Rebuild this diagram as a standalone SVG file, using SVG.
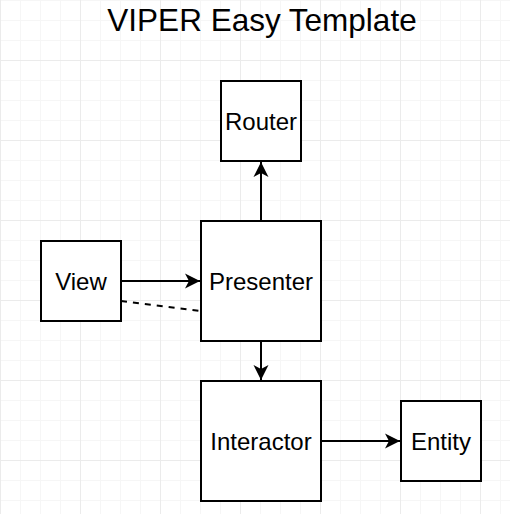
<svg xmlns="http://www.w3.org/2000/svg" width="510" height="514" viewBox="0 0 510 514">
  <defs>
    <pattern id="minor" x="0" y="0" width="20" height="20" patternUnits="userSpaceOnUse">
      <path d="M 0.5 0 V 20 M 0 0.5 H 20" fill="none" stroke="#f6f6f6" stroke-width="1"/>
    </pattern>
    <pattern id="major" x="0" y="60" width="80" height="80" patternUnits="userSpaceOnUse">
      <path d="M 0.5 0 V 80 M 0 0.5 H 80" fill="none" stroke="#ebebeb" stroke-width="1"/>
    </pattern>
    <marker id="arrow" markerUnits="userSpaceOnUse" markerWidth="16" markerHeight="16" viewBox="-15 -8 16 16" refX="0" refY="0" orient="auto">
      <path d="M 0 0 L -15 -7.5 L -11 0 L -15 7.5 Z" fill="#000"/>
    </marker>
    <style>
      .node rect { fill: #fff; stroke: #000; stroke-width: 2; }
      .node text { font-family: "Liberation Sans", Arial, Helvetica, sans-serif; font-size: 24px; text-anchor: middle; fill: #000; }
      .edge { fill: none; stroke: #000; stroke-width: 2; }
      .title { font-family: "Liberation Sans", Arial, Helvetica, sans-serif; font-size: 31.5px; text-anchor: middle; fill: #000; }
    </style>
  </defs>
  <rect width="510" height="514" fill="#fff"/>
  <rect width="510" height="514" fill="url(#minor)"/>
  <rect width="510" height="514" fill="url(#major)"/>

  <text class="title" x="262" y="31">VIPER Easy Template</text>

  <g id="connectors">
    <path class="edge" d="M 261 221 V 162" marker-end="url(#arrow)"/>
    <path class="edge" d="M 121 281 H 200" marker-end="url(#arrow)"/>
    <path class="edge" d="M 261 341 V 380" marker-end="url(#arrow)"/>
    <path class="edge" d="M 321 441 H 400" marker-end="url(#arrow)"/>
    <path class="edge" d="M 121 301 L 201 311" stroke-dasharray="6 6"/>
  </g>

  <g id="router" class="node">
    <rect x="221" y="81" width="80" height="80"/>
    <text x="261" y="130">Router</text>
  </g>
  <g id="view" class="node">
    <rect x="41" y="241" width="80" height="80"/>
    <text x="81" y="290">View</text>
  </g>
  <g id="presenter" class="node">
    <rect x="201" y="221" width="120" height="120"/>
    <text x="261" y="290">Presenter</text>
  </g>
  <g id="interactor" class="node">
    <rect x="201" y="381" width="120" height="120"/>
    <text x="261" y="450">Interactor</text>
  </g>
  <g id="entity" class="node">
    <rect x="401" y="401" width="80" height="80"/>
    <text x="441" y="450">Entity</text>
  </g>
</svg>
